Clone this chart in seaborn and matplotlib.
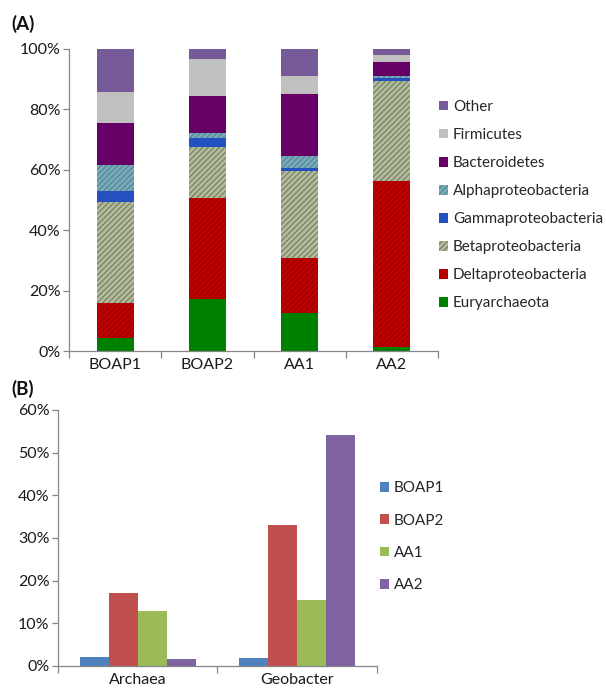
import matplotlib
matplotlib.use("Agg")
import matplotlib.pyplot as plt
from matplotlib.patches import Patch
from matplotlib.ticker import PercentFormatter, FixedLocator
import seaborn as sns
import pandas as pd
import numpy as np

# ---- Data ----
samples = ["BOAP1", "BOAP2", "AA1", "AA2"]
taxa = ["Euryarchaeota", "Deltaproteobacteria", "Betaproteobacteria",
        "Gammaproteobacteria", "Alphaproteobacteria", "Bacteroidetes",
        "Firmicutes", "Other"]
euryarchaeota = [4.4, 17.2, 12.7, 1.4]
deltaproteobacteria = [11.4, 33.5, 18.2, 54.9]
betaproteobacteria = [33.5, 16.9, 28.7, 33.1]
gammaproteobacteria = [3.8, 3.0, 1.1, 0.9]
alphaproteobacteria = [8.5, 1.5, 4.0, 0.8]
bacteroidetes = [14.0, 12.2, 20.3, 4.5]
firmicutes = [10.3, 12.4, 6.0, 2.3]
other = [14.1, 3.3, 9.0, 2.1]

groups_b = ["Archaea", "Geobacter"]
boap1_b = [2.2, 1.9]
boap2_b = [17.2, 33.1]
aa1_b = [13.0, 15.5]
aa2_b = [1.6, 54.1]

# ---- Styles ----
series_a = [euryarchaeota, deltaproteobacteria, betaproteobacteria,
            gammaproteobacteria, alphaproteobacteria, bacteroidetes,
            firmicutes, other]
face = ["#008000", "#C00000", "#B2BA9C", "#2450C0", "#7AAAB8", "#660066",
        "#C0C0C0", "#775A98"]
hatchc = [None, "#8A0000", "#5E6A4C", None, "#3F7A8A", None, None, None]

sns.set_theme(style="white")
plt.rcParams["font.family"] = ["Lato", "DejaVu Sans"]
plt.rcParams["hatch.linewidth"] = 0.6

fig = plt.figure(figsize=(6.06, 6.90), dpi=100)
axA = fig.add_axes([0.1139, 0.4913, 0.609, 0.4377])
axB = fig.add_axes([0.0957, 0.0348, 0.5264, 0.371])

spine_c = "#868686"
text_c = "#1a1a1a"

# ---- Panel A ----
cum = np.zeros(len(samples))
handles = []
for name, vals, fc, hc in zip(taxa, series_a, face, hatchc):
    if hc is not None:
        kw = dict(hatch="//////", edgecolor=hc, linewidth=0)
    else:
        kw = dict(linewidth=0)
    sns.barplot(x=samples, y=vals, bottom=cum, color=fc, saturation=1,
                width=0.4, ax=axA, **kw)
    cum += np.array(vals)
    if hc is not None:
        handles.append(Patch(facecolor=fc, edgecolor=hc, hatch="//////",
                             linewidth=0, label=name))
    else:
        handles.append(Patch(facecolor=fc, linewidth=0, label=name))

axA.set_xlim(-0.5, 3.5)
axA.set_ylim(0, 100)
axA.set_yticks(np.arange(0, 101, 20))
axA.yaxis.set_major_formatter(PercentFormatter(decimals=0))
axA.set_xlabel("")
axA.set_ylabel("")
axA.legend(handles=handles[::-1], loc="center left",
           bbox_to_anchor=(0.995, 0.483), frameon=False,
           handlelength=0.6, handleheight=0.6, handletextpad=0.3,
           labelspacing=0.92, fontsize=11, borderaxespad=0, borderpad=0.2)

# ---- Panel B ----
dfb = pd.DataFrame({
    "group": groups_b * 4,
    "sample": sum([[s] * 2 for s in samples], []),
    "value": boap1_b + boap2_b + aa1_b + aa2_b,
})
pal_b = ["#4F81BD", "#C0504D", "#9BBB59", "#8064A2"]
sns.barplot(data=dfb, x="group", y="value", hue="sample", palette=pal_b,
            saturation=1, width=0.73, ax=axB, linewidth=0, legend=False)
axB.set_xlim(-0.5, 1.5)
axB.set_ylim(0, 60)
axB.set_yticks(np.arange(0, 61, 10))
axB.yaxis.set_major_formatter(PercentFormatter(decimals=0))
axB.set_xlabel("")
axB.set_ylabel("")
hb = [Patch(facecolor=c, linewidth=0, label=s) for s, c in zip(samples, pal_b)]
axB.legend(handles=hb, loc="center left", bbox_to_anchor=(1.0, 0.505),
           frameon=False, handlelength=0.6, handleheight=0.6,
           handletextpad=0.3, labelspacing=1.2, fontsize=11,
           borderaxespad=0, borderpad=0.2)

for ax, n in [(axA, 4), (axB, 2)]:
    for s in ["top", "right"]:
        ax.spines[s].set_visible(False)
    for s in ["left", "bottom"]:
        ax.spines[s].set_color(spine_c)
        ax.spines[s].set_linewidth(0.9)
    ax.tick_params(axis="y", which="major", left=True, length=4, width=0.9,
                   color=spine_c, labelsize=11.5, labelcolor=text_c, pad=2)
    ax.tick_params(axis="x", which="major", bottom=False, length=0,
                   labelsize=11.5, labelcolor=text_c, pad=5)
    ax.xaxis.set_minor_locator(FixedLocator(np.arange(-0.5, n, 1.0)))
    ax.tick_params(axis="x", which="minor", bottom=True, length=5, width=0.9,
                   color=spine_c, direction="out")

fig.text(0.018, 0.978, "(A)", fontsize=13.5, fontweight="bold", va="top",
         color="#111111")
fig.text(0.018, 0.45, "(B)", fontsize=13.5, fontweight="bold", va="top",
         color="#111111")

fig.savefig("out.png", dpi=100)
